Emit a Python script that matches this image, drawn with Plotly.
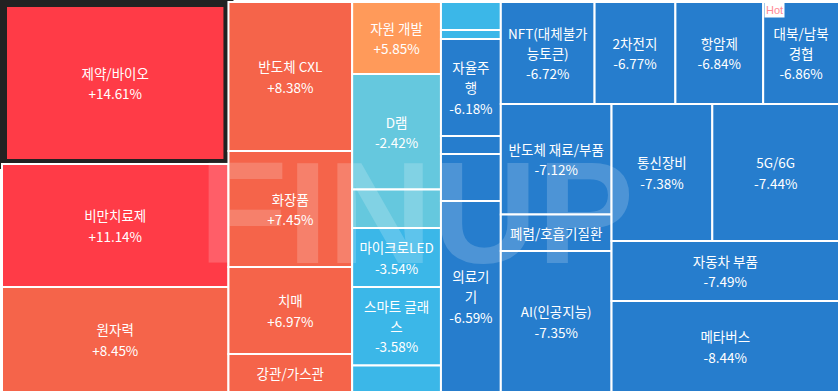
import plotly.graph_objects as go

# Themes in order of daily change (descending); blank names = cells too small to label
names = ["제약/바이오", "비만치료제", "원자력", "반도체 CXL", "화장품", "치매", "강관/가스관",
         "자원 개발", "D램", "", "마이크로LED", "스마트 글래<br>스", "", "", "",
         "자율주<br>행", "", "", "의료기<br>기", "NFT(대체불가<br>능토큰)", "2차전지", "항암제",
         "대북/남북<br>경협", "반도체 재료/부품", "폐렴/호흡기질환", "AI(인공지능)", "통신장비",
         "5G/6G", "자동차 부품", "메타버스"]
changes = [14.61, 11.14, 8.45, 8.38, 7.45, 6.97, 6.40,
           5.85, -2.42, -2.95, -3.54, -3.58, -4.10, -5.20, -5.80,
           -6.18, -6.30, -6.45, -6.59, -6.72, -6.77, -6.84,
           -6.86, -7.12, -7.25, -7.35, -7.38,
           -7.44, -7.49, -8.44]
# relative size of each theme (cell area)
sizes = [36774, 27921, 23835, 18476, 14384, 10788, 4712,
         6408, 10280, 3427, 5251, 6987, 2359, 1680, 540,
         5820, 1080, 2820, 11460, 9588, 8262, 8976,
         7752, 12266, 4052, 15651, 13837,
         17399, 13680, 20748]
highlight = "제약/바이오"


def color_for(c):
    if c >= 10:
        return "#FF3B47"
    if c >= 6:
        return "#F5644A"
    if c > 0:
        return "#FF9A5A"
    if c > -3:
        return "#65C8DE"
    if c > -6:
        return "#3BB7E8"
    return "#267DCD"


def fmt(lines):
    return "<br>".join(f"<span style='font-size:13.5px'>{ln}</span>" for ln in lines)


texts = []
for n, c, s in zip(names, changes, sizes):
    if s < 3500 or not n:
        texts.append("")
    elif s < 5000:
        texts.append(fmt(n.split("<br>")))
    else:
        texts.append(fmt(n.split("<br>") + [f"{c:+.2f}%"]))

colors = [color_for(c) for c in changes]
line_colors = ["#222222" if n == highlight else "white" for n in names]
line_widths = [10 if n == highlight else 2 for n in names]

fig = go.Figure(go.Treemap(
    ids=[f"t{i}" for i in range(len(names))],
    labels=names,
    parents=[""] * len(names),
    values=sizes,
    sort=False,
    text=texts,
    texttemplate="%{text}",
    textposition="middle center",
    textfont=dict(family="Noto Sans CJK KR", size=15.5, color="white"),
    tiling=dict(packing="squarify", squarifyratio=1.618034, pad=0),
    marker=dict(colors=colors, line=dict(color=line_colors, width=line_widths),
                pad=dict(t=0, l=0, r=0, b=0)),
    pathbar=dict(visible=False),
    hoverinfo="skip",
))

fig.add_annotation(text="<b>FINUP</b>", x=0.495, y=0.46, xref="paper", yref="paper",
                   showarrow=False, font=dict(family="Liberation Sans", size=145, color="white"),
                   opacity=0.18)
fig.add_annotation(text="Hot", x=764 / 839, y=1, xref="paper", yref="paper",
                   xanchor="left", yanchor="top", showarrow=False,
                   font=dict(family="Liberation Sans", size=11, color="#FF8A95"),
                   bgcolor="white", borderpad=1)

fig.update_layout(width=839, height=392, margin=dict(l=2, r=0, t=2, b=0),
                  paper_bgcolor="white", plot_bgcolor="white")
fig.write_html("out.html", config={"displayModeBar": False, "staticPlot": True},
               post_script="document.body.style.margin='0';document.body.style.overflow='hidden';")
